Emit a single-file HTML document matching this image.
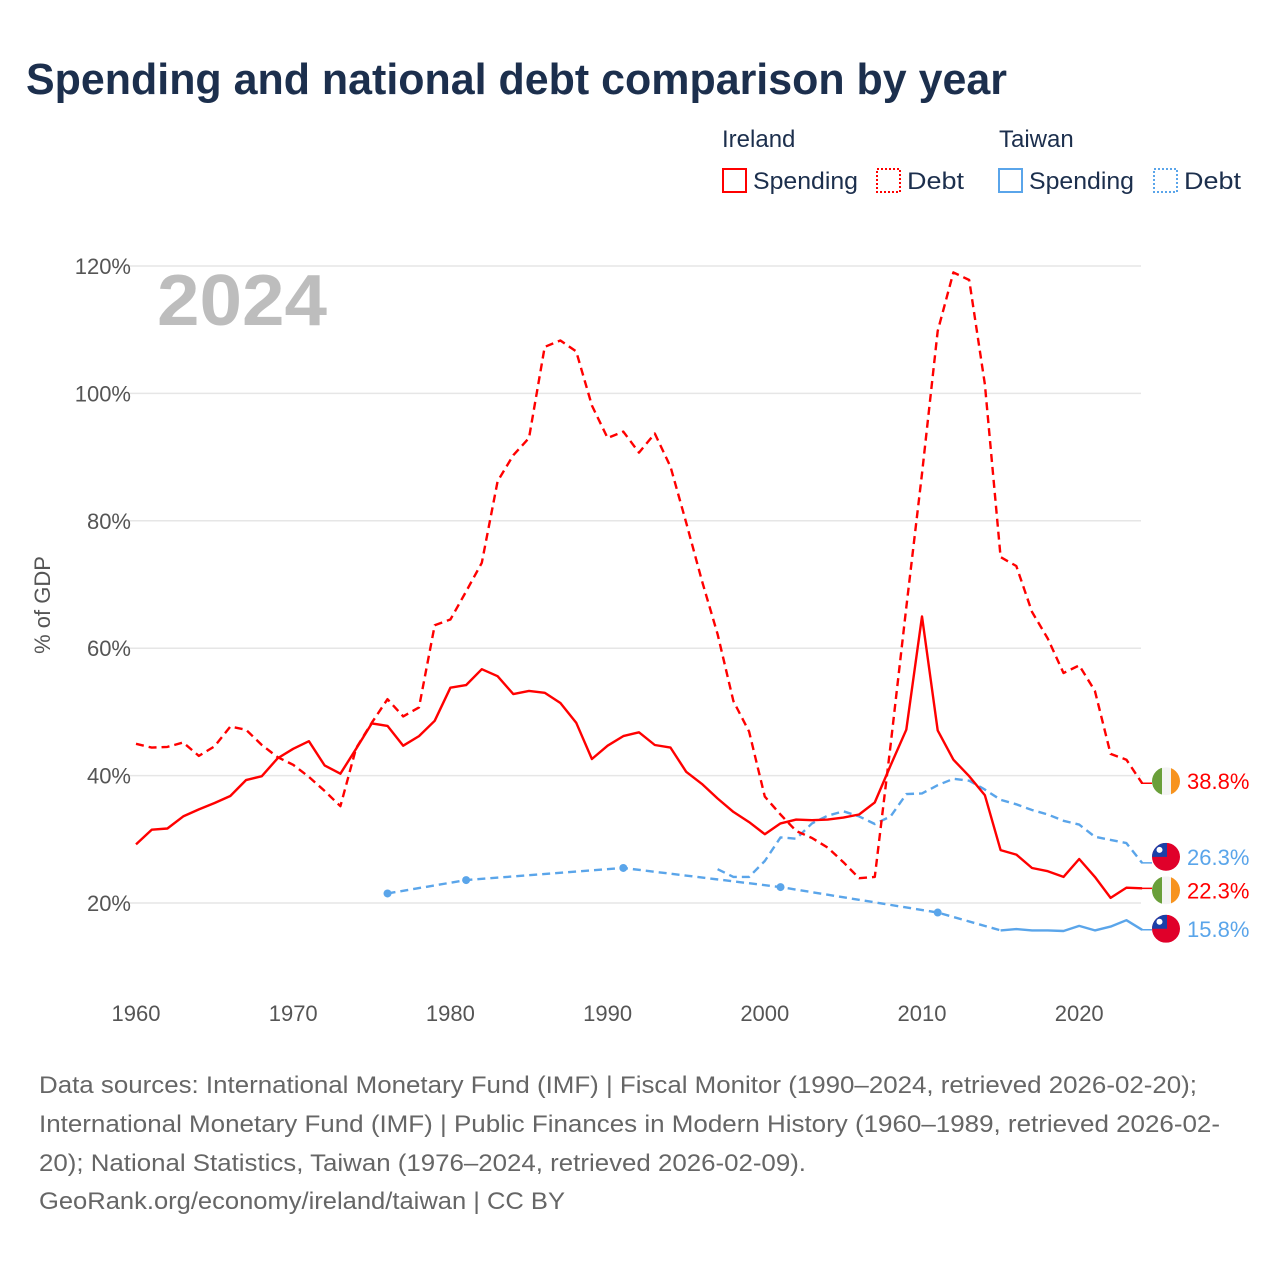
<!DOCTYPE html>
<html><head><meta charset="utf-8"><style>
body{margin:0;background:#fff;font-family:"Liberation Sans",sans-serif}
#c{position:relative;width:1280px;height:1280px;overflow:hidden}
</style></head><body><div id="c">
<svg id="s" width="1280" height="1280" xmlns="http://www.w3.org/2000/svg">
<text x="26" y="94" font-size="44" font-weight="bold" fill="#1c2f4d" textLength="981" lengthAdjust="spacingAndGlyphs">Spending and national debt comparison by year</text>
<g font-size="24" fill="#1c2f4d">
<text x="722" y="147">Ireland</text>
<text x="999" y="147">Taiwan</text>
<rect x="723" y="169" width="23" height="23" fill="none" stroke="#f00" stroke-width="2"/>
<text x="753" y="189" textLength="105" lengthAdjust="spacingAndGlyphs">Spending</text>
<rect x="877" y="169" width="23" height="23" fill="none" stroke="#f00" stroke-width="2" stroke-dasharray="2,2"/>
<text x="907" y="189" textLength="57" lengthAdjust="spacingAndGlyphs">Debt</text>
<rect x="999" y="169" width="23" height="23" fill="none" stroke="#5aa5ea" stroke-width="2"/>
<text x="1029" y="189" textLength="105" lengthAdjust="spacingAndGlyphs">Spending</text>
<rect x="1154" y="169" width="23" height="23" fill="none" stroke="#5aa5ea" stroke-width="2" stroke-dasharray="2,2"/>
<text x="1184" y="189" textLength="57" lengthAdjust="spacingAndGlyphs">Debt</text>
</g>
<g id="grid"></g>
<text x="157" y="325" font-size="72" font-weight="bold" fill="#bdbdbd" textLength="170" lengthAdjust="spacingAndGlyphs">2024</text>
<text transform="translate(50,605) rotate(-90)" text-anchor="middle" font-size="22" fill="#555">% of GDP</text>
<g id="plot"></g>
<g font-size="24" fill="#666">
<text x="39" y="1093" textLength="1158" lengthAdjust="spacingAndGlyphs">Data sources: International Monetary Fund (IMF) | Fiscal Monitor (1990–2024, retrieved 2026-02-20);</text>
<text x="39" y="1132" textLength="1181" lengthAdjust="spacingAndGlyphs">International Monetary Fund (IMF) | Public Finances in Modern History (1960–1989, retrieved 2026-02-</text>
<text x="39" y="1171" textLength="767" lengthAdjust="spacingAndGlyphs">20); National Statistics, Taiwan (1976–2024, retrieved 2026-02-09).</text>
<text x="39" y="1209" textLength="526" lengthAdjust="spacingAndGlyphs">GeoRank.org/economy/ireland/taiwan | CC BY</text>
</g>
</svg></div>
<script>
const yTicks=[20,40,60,80,100,120];
const xTicks=[1960,1970,1980,1990,2000,2010,2020];
const irlStartYear=1960;
const irlSpending=[29.2,31.5,31.7,33.6,34.7,35.7,36.8,39.3,39.9,42.7,44.2,45.4,41.6,40.3,44.2,48.2,47.8,44.7,46.2,48.6,53.8,54.2,56.7,55.6,52.8,53.3,53.0,51.4,48.3,42.6,44.7,46.2,46.8,44.8,44.4,40.6,38.7,36.4,34.3,32.7,30.8,32.5,33.1,33.0,33.1,33.4,33.9,35.8,41.6,47.2,65.0,47.1,42.5,39.9,36.9,28.3,27.6,25.5,25.0,24.1,26.9,24.1,20.8,22.4,22.3];
const irlDebt=[45.0,44.4,44.5,45.2,43.1,44.6,47.7,47.2,44.8,42.9,41.7,39.8,37.6,35.2,44.3,48.3,52.0,49.3,50.7,63.6,64.5,68.9,73.4,86.2,90.3,93.0,107.3,108.3,106.6,98.1,93.0,94.0,90.7,93.7,88.5,79.7,70.6,62.2,51.7,46.9,36.7,33.9,31.3,30.2,28.7,26.4,23.9,24.1,44.8,66.4,87.4,109.8,119.0,117.8,101.4,74.3,72.9,65.7,61.5,56.1,57.3,53.3,43.4,42.5,38.8];
const twnDebtStartYear=1997;
const twnDebt=[25.3,24.1,24.1,26.6,30.3,30.1,32.5,33.7,34.4,33.6,32.4,33.6,37.1,37.2,38.5,39.5,39.2,37.8,36.2,35.5,34.6,33.9,32.9,32.3,30.4,29.9,29.4,26.3];
const twnSpendSparseYears=[1976,1981,1991,2001,2011];
const twnSpendSparse=[21.5,23.6,25.5,22.5,18.5];
const twnSpendStartYear=2015;
const twnSpend=[15.7,15.9,15.7,15.7,15.6,16.4,15.7,16.3,17.3,15.8];

const X=y=>136+(y-1960)*15.72;
const Y=v=>1030.4-v*6.37;
const NS='http://www.w3.org/2000/svg';
function mk(tag,attrs,parent){const e=document.createElementNS(NS,tag);for(const k in attrs)e.setAttribute(k,attrs[k]);parent.appendChild(e);return e;}
const grid=document.getElementById('grid'),plot=document.getElementById('plot');
yTicks.forEach(t=>{
 const l=mk('line',{x1:130,x2:1141,y1:Y(t),y2:Y(t),stroke:'#e6e6e6','stroke-width':1.5},grid);
 
 
 const tx=mk('text',{x:131,y:Y(t)+8,'text-anchor':'end','font-size':22,fill:'#555'},grid);
 tx.textContent=t+'%';
 
 
});
xTicks.forEach(t=>{
 const tx=mk('text',{x:X(t),y:1021,'text-anchor':'middle','font-size':22,fill:'#555'},grid);
 tx.textContent=t;
 
 
});
function pts(start,arr){return arr.map((v,i)=>X(start+i).toFixed(1)+','+Y(v).toFixed(1)).join(' ');}
function line(p,color,dash,name){
 const e=mk('polyline',{points:p,fill:'none',stroke:color,'stroke-width':2.4,'stroke-linejoin':'round'},plot);
 if(dash)e.setAttribute('stroke-dasharray',dash);
 
 
}
const red='#f00',blue='#5aa5ea';
line(pts(twnDebtStartYear,twnDebt),blue,'8,5','taiwan-debt-line');
const sparse=twnSpendSparseYears.map((y,i)=>X(y)+','+Y(twnSpendSparse[i]));
sparse.push(X(twnSpendStartYear)+','+Y(twnSpend[0]));
line(sparse.join(' '),blue,'8,5','taiwan-spending-gap-line');
line(pts(twnSpendStartYear,twnSpend),blue,null,'taiwan-spending-line');
twnSpendSparseYears.forEach((y,i)=>{
 const c=mk('circle',{cx:X(y),cy:Y(twnSpendSparse[i]),r:4,fill:blue},plot);
 
 
});
line(pts(irlStartYear,irlDebt),red,'8,5','ireland-debt-line');
line(pts(irlStartYear,irlSpending),red,null,'ireland-spending-line');
function flag(v,country,color,name,dy){
 const cy=Y(v)+dy,cx=1166;
 const g=mk('g',{},plot);
 
 
 mk('line',{x1:1141,x2:1152,y1:Y(v),y2:Y(v),stroke:color,'stroke-width':1.5},g);
 const id='clip'+name;
 const cp=mk('clipPath',{id:id},g);mk('circle',{cx:cx,cy:cy,r:14},cp);
 const f=mk('g',{'clip-path':'url(#'+id+')'},g);
 if(country==='ie'){
  mk('rect',{x:cx-14,y:cy-14,width:10,height:28,fill:'#6a9f3a'},f);
  mk('rect',{x:cx-4,y:cy-14,width:9,height:28,fill:'#f4f4f4'},f);
  mk('rect',{x:cx+5,y:cy-14,width:10,height:28,fill:'#f7931e'},f);
 }else{
  mk('rect',{x:cx-14,y:cy-14,width:28,height:28,fill:'#e0002a'},f);
  mk('rect',{x:cx-14,y:cy-14,width:15,height:14,fill:'#1a3fa8'},f);
  mk('circle',{cx:cx-6.5,cy:cy-7,r:3,fill:'#fff'},f);
 }
 const t=mk('text',{x:1187,y:cy+8,'font-size':22,fill:color},plot);
 t.textContent=v.toFixed(1)+'%';
 
 
}
flag(irlDebt[irlDebt.length-1],'ie',red,'ireland-debt',-2);
flag(twnDebt[twnDebt.length-1],'tw',blue,'taiwan-debt',-6);
flag(irlSpending[irlSpending.length-1],'ie',red,'ireland-spending',2);
flag(twnSpend[twnSpend.length-1],'tw',blue,'taiwan-spending',-1);
</script></body></html>
